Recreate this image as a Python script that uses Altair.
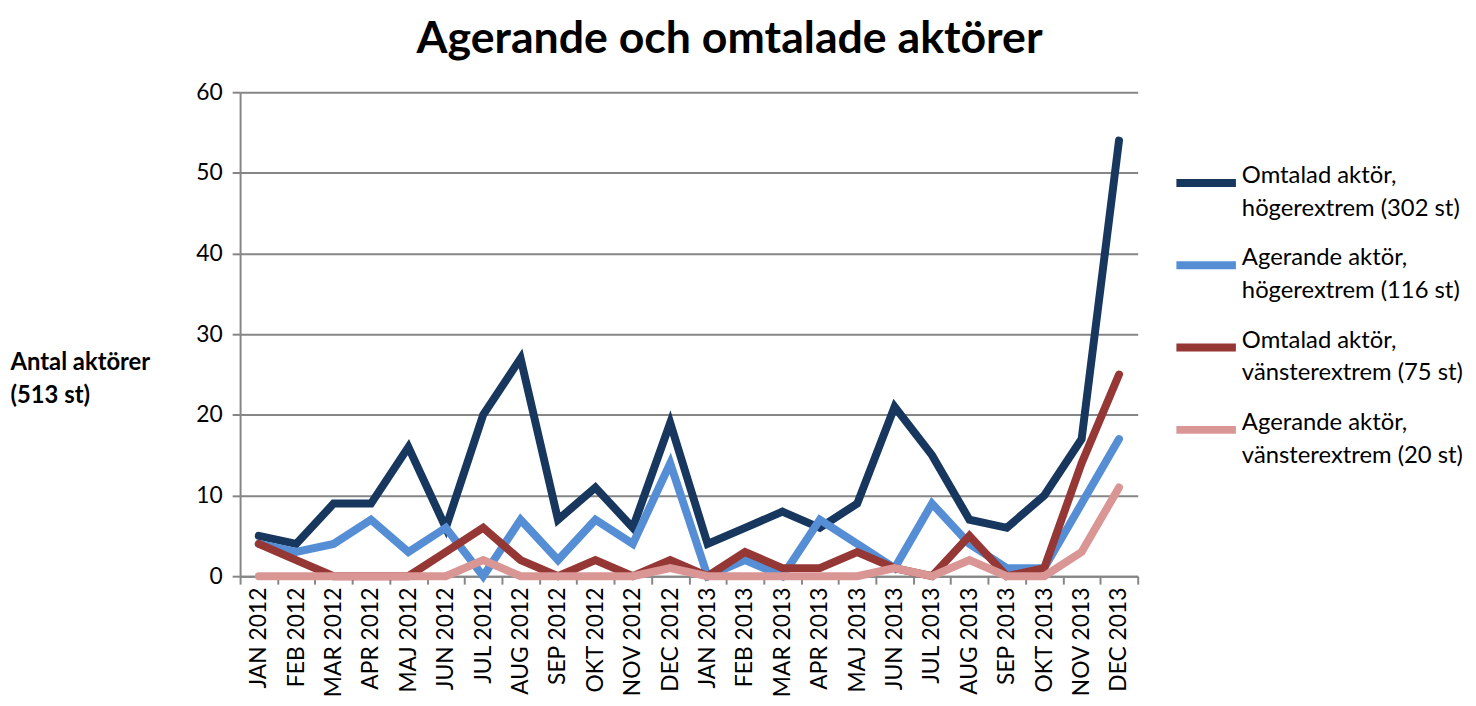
import altair as alt
import pandas as pd

months = ["JAN 2012", "FEB 2012", "MAR 2012", "APR 2012", "MAJ 2012", "JUN 2012",
          "JUL 2012", "AUG 2012", "SEP 2012", "OKT 2012", "NOV 2012", "DEC 2012",
          "JAN 2013", "FEB 2013", "MAR 2013", "APR 2013", "MAJ 2013", "JUN 2013",
          "JUL 2013", "AUG 2013", "SEP 2013", "OKT 2013", "NOV 2013", "DEC 2013"]

series_names = ["Omtalad aktör,|högerextrem (302 st)",
                "Agerande aktör,|högerextrem (116 st)",
                "Omtalad aktör,|vänsterextrem (75 st)",
                "Agerande aktör,|vänsterextrem (20 st)"]

omtalad_hoger = [5, 4, 9, 9, 16, 6, 20, 27, 7, 11, 6, 19, 4, 6, 8, 6, 9, 21, 15, 7, 6, 10, 17, 54]
agerande_hoger = [4, 3, 4, 7, 3, 6, 0, 7, 2, 7, 4, 14, 0, 2, 0, 7, 4, 1, 9, 4, 1, 1, 9, 17]
omtalad_vanster = [4, 2, 0, 0, 0, 3, 6, 2, 0, 2, 0, 2, 0, 3, 1, 1, 3, 1, 0, 5, 0, 1, 14, 25]
agerande_vanster = [0, 0, 0, 0, 0, 0, 2, 0, 0, 0, 0, 1, 0, 0, 0, 0, 0, 1, 0, 2, 0, 0, 3, 11]

colors = ["#17375E", "#558ED5", "#953735", "#D99694"]

rows = []
for si, (name, vals) in enumerate(zip(series_names,
                                      [omtalad_hoger, agerande_hoger, omtalad_vanster, agerande_vanster])):
    for mi, (m, v) in enumerate(zip(months, vals)):
        rows.append({"month": m, "value": v, "series": name, "order": si})
df = pd.DataFrame(rows)

FONT = "Lato"
GRAY = "#868686"

chart = alt.Chart(df).mark_line(strokeWidth=8, strokeCap="round").encode(
    x=alt.X("month:N", sort=months, bandPosition=0.5,
            scale=alt.Scale(type="band", paddingInner=0, paddingOuter=0),
            axis=alt.Axis(title=None, labelAngle=270, labelFontSize=23, labelFont=FONT,
                          labelColor="black", tickBand="extent", tickSize=8,
                          tickColor=GRAY, tickWidth=2, domainColor=GRAY, domainWidth=2,
                          labelPadding=3, grid=False, labelAlign="right",
                          labelBaseline="middle")),
    y=alt.Y("value:Q", scale=alt.Scale(domain=[0, 60], nice=False),
            axis=alt.Axis(values=[0, 10, 20, 30, 40, 50, 60],
                          title=["Antal aktörer", "(513 st)"],
                          titleAngle=0, titleAlign="left", titleBaseline="top",
                          titleX=-232, titleY=261, titleFontSize=24, titleFont=FONT,
                          titleFontWeight="bold", titleColor="black", titleLineHeight=33,
                          labelFontSize=23, labelFont=FONT, labelColor="black",
                          labelPadding=10, tickSize=8, tickColor=GRAY, tickWidth=2,
                          gridColor=GRAY, gridWidth=2, domainColor=GRAY, domainWidth=2)),
    color=alt.Color("series:N", sort=series_names,
                    scale=alt.Scale(domain=series_names, range=colors),
                    legend=alt.Legend(title=None, orient="none", legendX=940, legendY=50,
                                      symbolType="stroke", symbolStrokeWidth=8,
                                      symbolSize=3600, labelFont=FONT, labelFontSize=24,
                                      labelColor="black", labelExpr="split(datum.label, '|')",
                                      labelBaseline="alphabetic", labelOffset=2,
                                      clipHeight=83, rowPadding=0, labelLimit=400)),
    order=alt.Order("order:Q"),
).properties(
    width=905,
    height=488,
    title=alt.TitleParams("Agerande och omtalade aktörer", fontSize=45, font=FONT,
                          fontWeight="bold", color="black", anchor="middle", dx=41,
                          offset=19),
    padding={"left": 2, "top": 7, "right": 5, "bottom": 5},
).configure(
    view={"stroke": None},
    style={"guide-label": {"lineHeight": 33}},
)

chart.save("out.html", embed_options={"renderer": "svg", "actions": False})
